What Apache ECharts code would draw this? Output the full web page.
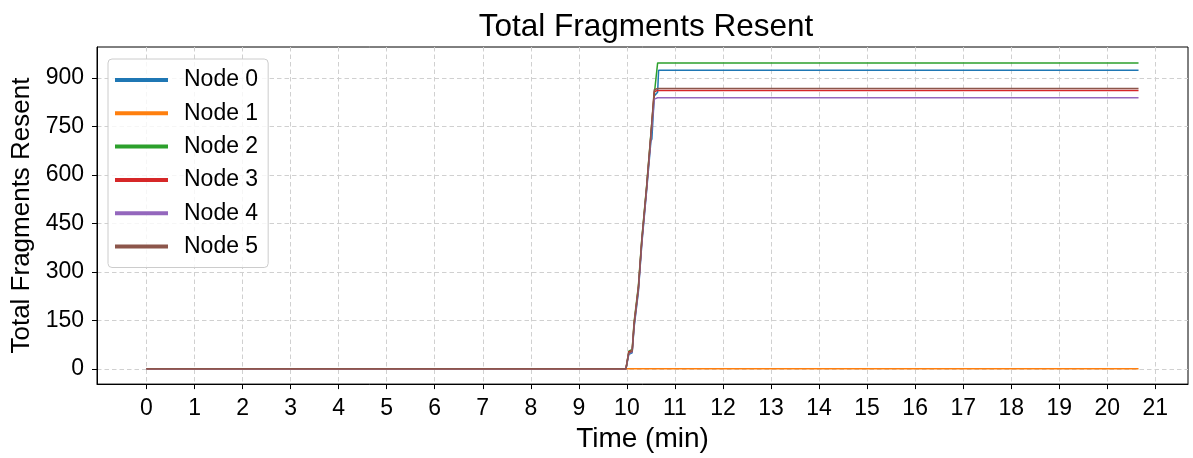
<!DOCTYPE html>
<html>
<head>
<meta charset="utf-8">
<script src="https://cdn.jsdelivr.net/npm/echarts@6/dist/echarts.min.js"></script>
<style>
html,body{margin:0;padding:0;background:#fff;}
#chart{width:1193px;height:458px;}
</style>
</head>
<body>
<div id="chart"></div>
<script>
// ---- data ----
const times = [0, 9.98, 10.04, 10.11, 10.15, 10.19, 10.24, 10.27, 10.31, 10.34, 10.41, 10.43, 10.50, 10.52, 10.57, 10.61, 10.64, 10.66, 20.65];
const node0 = [0, 0, 45, 50, 128, 134, 240, 246, 385, 390, 550, 556, 705, 712, 845, 850, 856, 924, 924];
const node1 = [0, 0, 0, 0, 0, 0, 0, 0, 0, 0, 0, 0, 0, 0, 0, 0, 0, 0, 0];
const node2 = [0, 0, 55, 60, 145, 150, 258, 262, 402, 407, 565, 570, 728, 734, 850, 855, 947, 947, 947];
const node3 = [0, 0, 53, 56, 140, 143, 252, 255, 395, 400, 559, 563, 722, 726, 858, 862, 862, 862, 862];
const node4 = [0, 0, 48, 52, 133, 137, 245, 249, 390, 394, 555, 559, 715, 719, 835, 839, 839, 839, 839];
const node5 = [0, 0, 50, 54, 137, 141, 250, 254, 398, 402, 562, 566, 725, 729, 864, 868, 868, 868, 868];
const seriesNames = ['Node 0', 'Node 1', 'Node 2', 'Node 3', 'Node 4', 'Node 5'];
const seriesValues = [node0, node1, node2, node3, node4, node5];
const colors = ['#1f77b4', '#ff7f0e', '#2ca02c', '#d62728', '#9467bd', '#8c564b'];
const xTicks = [0,1,2,3,4,5,6,7,8,9,10,11,12,13,14,15,16,17,18,19,20,21];
const yTicks = [0,150,300,450,600,750,900];

const FONT = '"Liberation Sans", Arial, Helvetica, sans-serif';
const gridLine = {show: true, lineStyle: {color: '#d0d0d0', width: 1, type: [4.5, 3]}};

const chart = echarts.init(document.getElementById('chart'), null, {renderer: 'canvas'});
chart.setOption({
  animation: false,
  color: colors,
  textStyle: {fontFamily: FONT},
  title: {
    text: 'Total Fragments Resent',
    left: 641, top: 6, textAlign: 'center',
    textStyle: {fontFamily: FONT, fontSize: 31.5, fontWeight: 'normal', color: '#000'}
  },
  grid: {left: 97, right: 5, top: 47, bottom: 70, containLabel: false,
         show: true, borderColor: '#000', borderWidth: 1},
  legend: {
    left: 108, top: 59, orient: 'vertical',
    icon: 'rect', itemWidth: 53, itemHeight: 4, itemGap: 7.3,
    padding: [8, 10, 8, 7],
    backgroundColor: 'rgba(255,255,255,0.8)',
    borderColor: '#cccccc', borderWidth: 1, borderRadius: 4,
    textStyle: {fontFamily: FONT, fontSize: 23, color: '#000', lineHeight: 26, padding: [0, 0, 0, 11]},
    data: seriesNames
  },
  xAxis: {
    type: 'value', min: -1.03, max: 21.68,
    name: 'Time (min)', nameLocation: 'middle', nameGap: 38,
    nameTextStyle: {fontFamily: FONT, fontSize: 28, color: '#000'},
    axisLine: {show: true, onZero: false, lineStyle: {color: '#000', width: 1}},
    axisTick: {show: true, inside: false, length: 5, lineStyle: {color: '#000'}, customValues: xTicks},
    axisLabel: {fontFamily: FONT, fontSize: 23, color: '#000', margin: 13, customValues: xTicks,
                formatter: v => String(v)},
    splitLine: gridLine
  },
  yAxis: {
    type: 'value', min: -47.2, max: 996.3,
    name: 'Total Fragments Resent', nameLocation: 'middle', nameGap: 57,
    nameTextStyle: {fontFamily: FONT, fontSize: 26, color: '#000'},
    axisLine: {show: true, onZero: false, lineStyle: {color: '#000', width: 1}},
    axisTick: {show: true, inside: false, length: 5, lineStyle: {color: '#000'}, customValues: yTicks},
    axisLabel: {fontFamily: FONT, fontSize: 23, color: '#000', margin: 13, customValues: yTicks,
                formatter: v => String(v)},
    splitLine: gridLine
  },
  series: seriesNames.map((name, i) => ({
    name: name,
    type: 'line',
    showSymbol: false,
    symbol: 'none',
    lineStyle: {width: 1.5, color: colors[i]},
    itemStyle: {color: colors[i]},
    z: 2 + i,
    data: times.map((t, j) => [t, seriesValues[i][j]])
  }))
});
</script>
</body>
</html>
